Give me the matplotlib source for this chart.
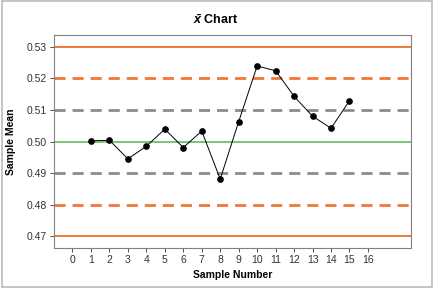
import matplotlib.pyplot as plt
from matplotlib.patches import Rectangle

plt.rcParams['font.family'] = ['Liberation Sans', 'DejaVu Sans']
plt.rcParams['mathtext.fontset'] = 'custom'
plt.rcParams['mathtext.it'] = 'Liberation Sans:italic:bold'
plt.rcParams['mathtext.rm'] = 'Liberation Sans:bold'

samples = [1, 2, 3, 4, 5, 6, 7, 8, 9, 10, 11, 12, 13, 14, 15]
means = [0.5002, 0.5004, 0.4945, 0.4985, 0.5039, 0.4981, 0.5033, 0.4881,
         0.5063, 0.5239, 0.5224, 0.5143, 0.5080, 0.5042, 0.5129]

center = 0.50
sigma_lines = [0.49, 0.51]
two_sigma = [0.48, 0.52]
limits = [0.47, 0.53]
x_ticks = list(range(0, 17))
y_ticks = [0.47, 0.48, 0.49, 0.50, 0.51, 0.52, 0.53]

orange = '#F07838'
gray = '#8C8C8C'
green = '#6CC06C'

fig = plt.figure(figsize=(4.35, 2.88), dpi=100)
ax = fig.add_axes([54 / 435, 1 - 248 / 288, 357 / 435, 213 / 288])

for y in limits:
    ax.axhline(y, color=orange, lw=1.4)
for y in two_sigma:
    ax.axhline(y, color=orange, lw=2.0, ls=(0, (4, 2.5)))
for y in sigma_lines:
    ax.axhline(y, color=gray, lw=2.0, ls=(0, (4, 2.5)))
ax.axhline(center, color=green, lw=1.3)

ax.plot(samples, means, color='black', lw=0.7, marker='o', ms=3.8, zorder=5)

ax.set_xlim(-1, 18.33)
ax.set_ylim(0.4663, 0.5337)
ax.set_xticks(x_ticks)
ax.set_yticks(y_ticks)
ax.set_yticklabels(['%.2f' % v for v in y_ticks])
ax.tick_params(labelsize=7.5, colors='#333333', length=3, width=0.6, pad=2)

for s in ax.spines.values():
    s.set_color('#808080')
    s.set_linewidth(0.8)

ax.set_xlabel('Sample Number', fontsize=7.5, fontweight='bold', labelpad=4)
ax.set_ylabel('Sample Mean', fontsize=7.5, fontweight='bold', labelpad=8)
fig.text(216 / 435, 1 - 20 / 288, r'$\bar{x}$ Chart', ha='center', va='center',
         fontsize=9, fontweight='bold')

fig.patches.append(Rectangle((0.004, 0.004), 0.988, 0.992, transform=fig.transFigure,
                             fill=False, edgecolor='#BBBBBB', lw=1.2))

fig.savefig('out.png', dpi=100)
